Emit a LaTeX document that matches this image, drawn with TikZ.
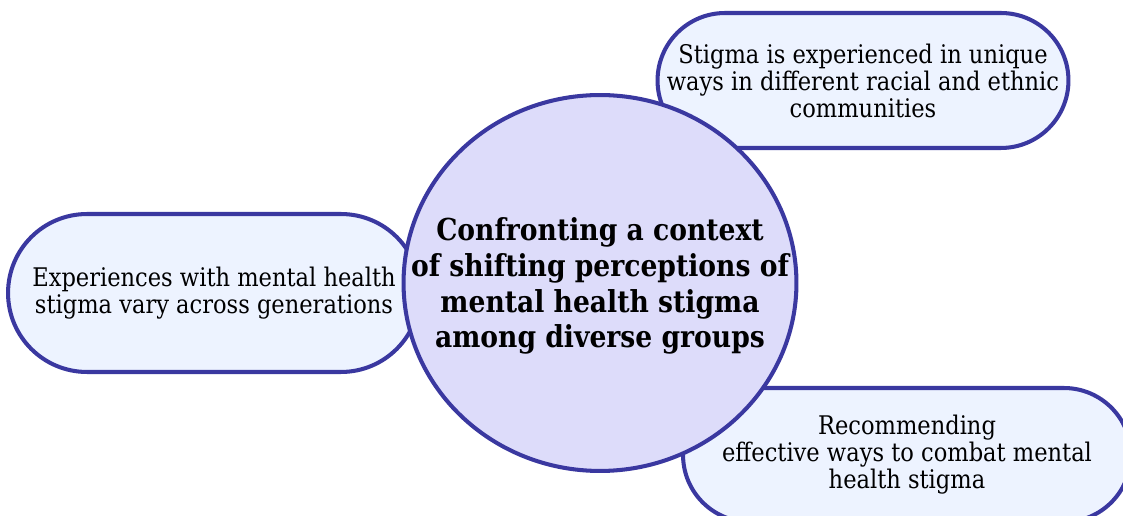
\documentclass[tikz,border=0pt]{standalone}
\usepackage{fontspec}
\setmainfont{DejaVu Serif}[FakeStretch=0.88]
\usepackage{xcolor}
\usetikzlibrary{shapes.geometric}

\definecolor{rimblue}{RGB}{58,56,160}
\definecolor{pillfill}{RGB}{237,243,255}
\definecolor{hubfill}{RGB}{221,220,250}

\begin{document}
\begin{tikzpicture}[x=0.02cm,y=-0.02cm,
    pill/.style={draw=rimblue,fill=pillfill,line width=2.3pt,align=center,
        inner sep=0pt,font=\fontsize{14.6}{15.4}\selectfont},
    hub/.style={ellipse,draw=rimblue,fill=hubfill,line width=2.3pt,
        inner sep=0pt,minimum width=7.86cm,minimum height=7.52cm},
    hubtext/.style={align=center,inner sep=0pt,
        font=\bfseries\fontsize{17.2}{20.4}\selectfont}]
        \useasboundingbox (0,0) rectangle (1123,516);

        \coordinate (C_0) at (600,283);
        \coordinate (C_1) at (214,293);
        \coordinate (C_2) at (863,80.5);
        \coordinate (C_3) at (907,455);

        \node[pill,minimum width=8.24cm,minimum height=3.16cm,rounded corners=1.58cm] (gen) at (C_1)
            {Experiences with mental health\\stigma vary across generations};
        \node[pill,minimum width=8.22cm,minimum height=2.7cm,rounded corners=1.35cm] (race) at (C_2)
            {Stigma is experienced in unique\\ways in different racial and ethnic\\communities};
        \node[pill,minimum width=8.96cm,minimum height=2.68cm,rounded corners=1.34cm] (combat) at (C_3)
            {Recommending\\effective ways to combat mental\\health stigma};

        \node[hub] (core) at (C_0) {};
        \node[hubtext] (coretext) at ([yshift=-0.06cm]core.center)
            {Confronting a context\\of shifting perceptions of\\mental health stigma\\among diverse groups};
    \end{tikzpicture}
\end{document}
